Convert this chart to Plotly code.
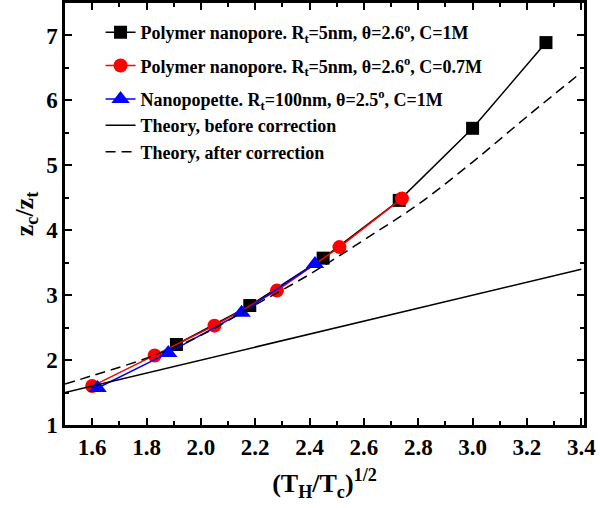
import plotly.graph_objects as go

# Data
sq_x = [1.91, 2.18, 2.45, 2.73, 3.00, 3.27]
sq_y = [2.24, 2.84, 3.57, 4.46, 5.57, 6.89]

ci_x = [1.60, 1.83, 2.05, 2.28, 2.51, 2.74]
ci_y = [1.60, 2.07, 2.53, 3.07, 3.74, 4.49]

tr_x = [1.62, 1.88, 2.15, 2.42]
tr_y = [1.57, 2.11, 2.73, 3.48]

before_x = [1.5, 3.4]
before_y = [1.5, 3.4]

after_x = [1.5, 1.6, 1.8, 2.0, 2.2, 2.4, 2.6, 2.8, 3.0, 3.2, 3.4]
after_y = [1.63, 1.76, 2.03, 2.38, 2.85, 3.32, 3.85, 4.40, 5.05, 5.75, 6.43]

x_ticks = [1.6, 1.8, 2.0, 2.2, 2.4, 2.6, 2.8, 3.0, 3.2, 3.4]
x_ticklabels = ["1.6", "1.8", "2.0", "2.2", "2.4", "2.6", "2.8", "3.0", "3.2", "3.4"]
y_ticks = [1, 2, 3, 4, 5, 6, 7]

FONT = "Liberation Serif"

fig = go.Figure()
fig.add_trace(go.Scatter(
    x=sq_x, y=sq_y, mode="lines+markers", legendgroup="g1",
    name="Polymer nanopore. R<sub>t</sub>=5nm, θ=2.6<sup>o</sup>, C=1M",
    line=dict(color="black", width=1.5),
    marker=dict(symbol="square", size=13, color="black")))
fig.add_trace(go.Scatter(
    x=ci_x, y=ci_y, mode="lines+markers", legendgroup="g2",
    name="Polymer nanopore. R<sub>t</sub>=5nm, θ=2.6<sup>o</sup>, C=0.7M",
    line=dict(color="red", width=1.5),
    marker=dict(symbol="circle", size=14, color="red")))
fig.add_trace(go.Scatter(
    x=tr_x, y=tr_y, mode="lines+markers", legendgroup="g3",
    name="Nanopopette. R<sub>t</sub>=100nm, θ=2.5<sup>o</sup>, C=1M",
    line=dict(color="blue", width=1.5),
    marker=dict(symbol="triangle-up", size=16, color="blue")))
fig.add_trace(go.Scatter(
    x=before_x, y=before_y, mode="lines", legendgroup="g3",
    name="Theory, before correction",
    line=dict(color="black", width=1.5)))
fig.add_trace(go.Scatter(
    x=after_x, y=after_y, mode="lines", legendgroup="g3",
    name="Theory, after correction",
    line=dict(color="black", width=1.5, dash="10px,6px", shape="spline")))

axis_common = dict(
    showline=True, linecolor="black", linewidth=2.5, mirror="allticks",
    ticks="inside", ticklen=7, tickwidth=2, tickcolor="black",
    showgrid=False, zeroline=False,
    tickfont=dict(family=FONT, size=23, color="black", weight="bold"),
)

fig.update_xaxes(
    range=[1.5, 3.41], tickvals=x_ticks, ticktext=x_ticklabels, automargin=False,
    minor=dict(dtick=0.1, tick0=1.5, ticks="inside", ticklen=4, tickwidth=2, tickcolor="black"),
    title=dict(text="(T<sub>H</sub>/T<sub>c</sub>)<sup>1/2</sup>",
               font=dict(family=FONT, size=26, color="black", weight="bold")),
    **axis_common)
fig.update_yaxes(
    range=[1, 7.5], tickvals=y_ticks, automargin=True,
    minor=dict(dtick=0.5, tick0=1, ticks="inside", ticklen=4, tickwidth=2, tickcolor="black"),
    title=dict(text="z<sub>c</sub>/z<sub>t</sub>", standoff=6,
               font=dict(family=FONT, size=26, color="black", weight="bold")),
    **axis_common)

fig.update_layout(
    width=600, height=508,
    margin=dict(l=65, r=16, t=3, b=83),
    plot_bgcolor="white", paper_bgcolor="white",
    font=dict(family=FONT, color="black"),
    legend=dict(
        x=0.0685, y=0.974, xanchor="left", yanchor="top",
        bgcolor="rgba(0,0,0,0)", borderwidth=0,
        font=dict(family=FONT, size=18, color="black", weight="bold"),
        tracegroupgap=7, itemwidth=30,
    ),
)

fig.write_html("out.html", config={"displayModeBar": False},
               post_script="document.body.style.margin='0';")
